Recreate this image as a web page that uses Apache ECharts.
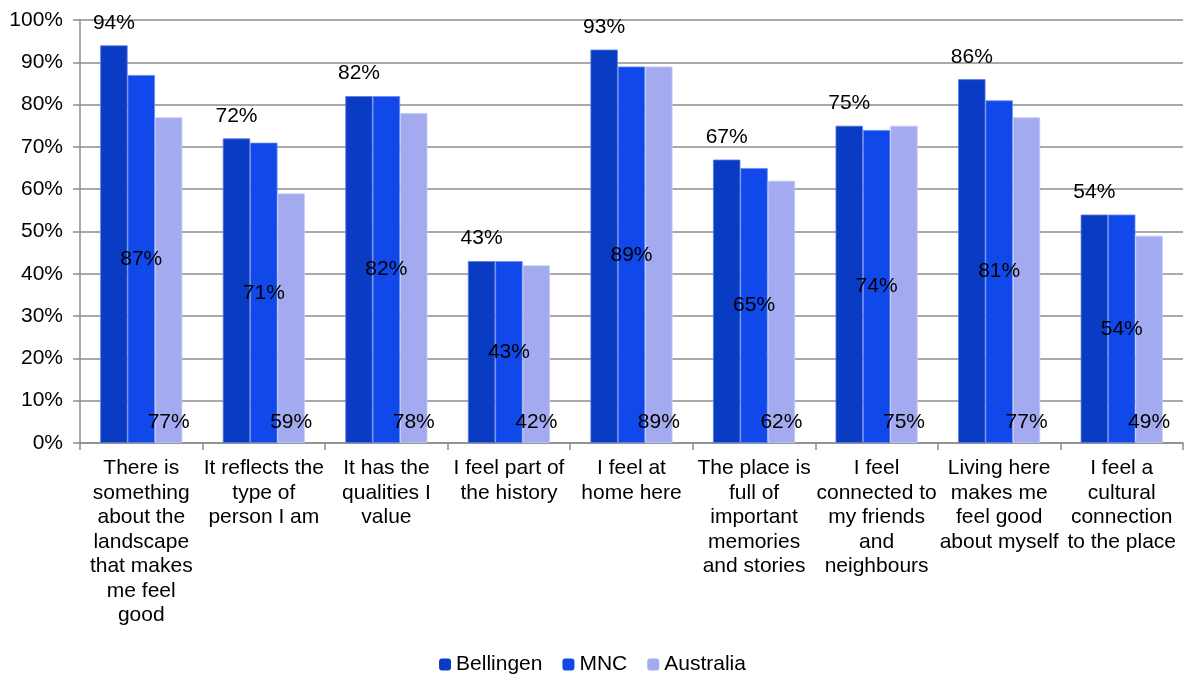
<!DOCTYPE html>
<html><head><meta charset="utf-8">
<script src="https://cdn.jsdelivr.net/npm/echarts@6/dist/echarts.min.js"></script>
<style>html,body{margin:0;padding:0;background:#fff}#c{width:1185px;height:676px}</style>
</head><body><div id="c"></div>
<script>
const categories = [
  "There is\nsomething\nabout the\nlandscape\nthat makes\nme feel\ngood",
  "It reflects the\ntype of\nperson I am",
  "It has the\nqualities I\nvalue",
  "I feel part of\nthe history",
  "I feel at\nhome here",
  "The place is\nfull of\nimportant\nmemories\nand stories",
  "I feel\nconnected to\nmy friends\nand\nneighbours",
  "Living here\nmakes me\nfeel good\nabout myself",
  "I feel a\ncultural\nconnection\nto the place"
];
const bellingen = [94, 72, 82, 43, 93, 67, 75, 86, 54];
const mnc = [87, 71, 82, 43, 89, 65, 74, 81, 54];
const australia = [77, 59, 78, 42, 89, 62, 75, 77, 49];
const yTicks = [0, 10, 20, 30, 40, 50, 60, 70, 80, 90, 100];

const font = "Liberation Sans, Arial, sans-serif";
const chart = echarts.init(document.getElementById('c'));
const lbl = (pos, dist) => ({show: true, position: pos, distance: dist, formatter: '{c}%', color: '#000', fontSize: 21, fontFamily: font});
chart.setOption({
  animation: false,
  grid: {left: 80, right: 2, top: 20, bottom: 233, containLabel: false},
  legend: {
    bottom: -4, left: 'center', itemWidth: 12, itemHeight: 12, itemGap: 20,
    itemStyle: {borderWidth: 0},
    textStyle: {fontSize: 21, fontFamily: font, color: '#000', padding: [0,0,0,0]},
    data: ['Bellingen', 'MNC', 'Australia']
  },
  xAxis: {
    type: 'category', data: categories,
    axisLine: {lineStyle: {color: '#8c8c8c', width: 1.5}},
    axisTick: {show: true, length: 7, lineStyle: {color: '#8c8c8c', width: 1.5}},
    axisLabel: {interval: 0, fontSize: 21, fontFamily: font, color: '#000', lineHeight: 24.5, margin: 13}
  },
  yAxis: {
    type: 'value', min: 0, max: 100, interval: 10,
    axisLine: {show: true, lineStyle: {color: '#8c8c8c', width: 1.5}},
    axisTick: {show: true, length: 7, lineStyle: {color: '#8c8c8c', width: 1.5}},
    splitLine: {lineStyle: {color: '#8c8c8c', width: 1.5}},
    axisLabel: {fontSize: 21, fontFamily: font, color: '#000', margin: 17,
      formatter: v => yTicks.includes(v) ? v + '%' : ''}
  },
  series: [
    {name: 'Bellingen', type: 'bar', data: bellingen, barGap: '0%', barCategoryGap: '33%',
     itemStyle: {color: '#0a3bc3', borderColor: '#5a7be0', borderWidth: 0.8}, label: lbl('top', 12)},
    {name: 'MNC', type: 'bar', data: mnc,
     itemStyle: {color: '#1148e9', borderColor: '#6a8cf2', borderWidth: 0.8}, label: lbl('inside', 0)},
    {name: 'Australia', type: 'bar', data: australia,
     itemStyle: {color: '#a4aaf0', borderColor: '#c8ccf7', borderWidth: 0.8}, label: lbl('insideBottom', 10)}
  ]
});
</script></body></html>
